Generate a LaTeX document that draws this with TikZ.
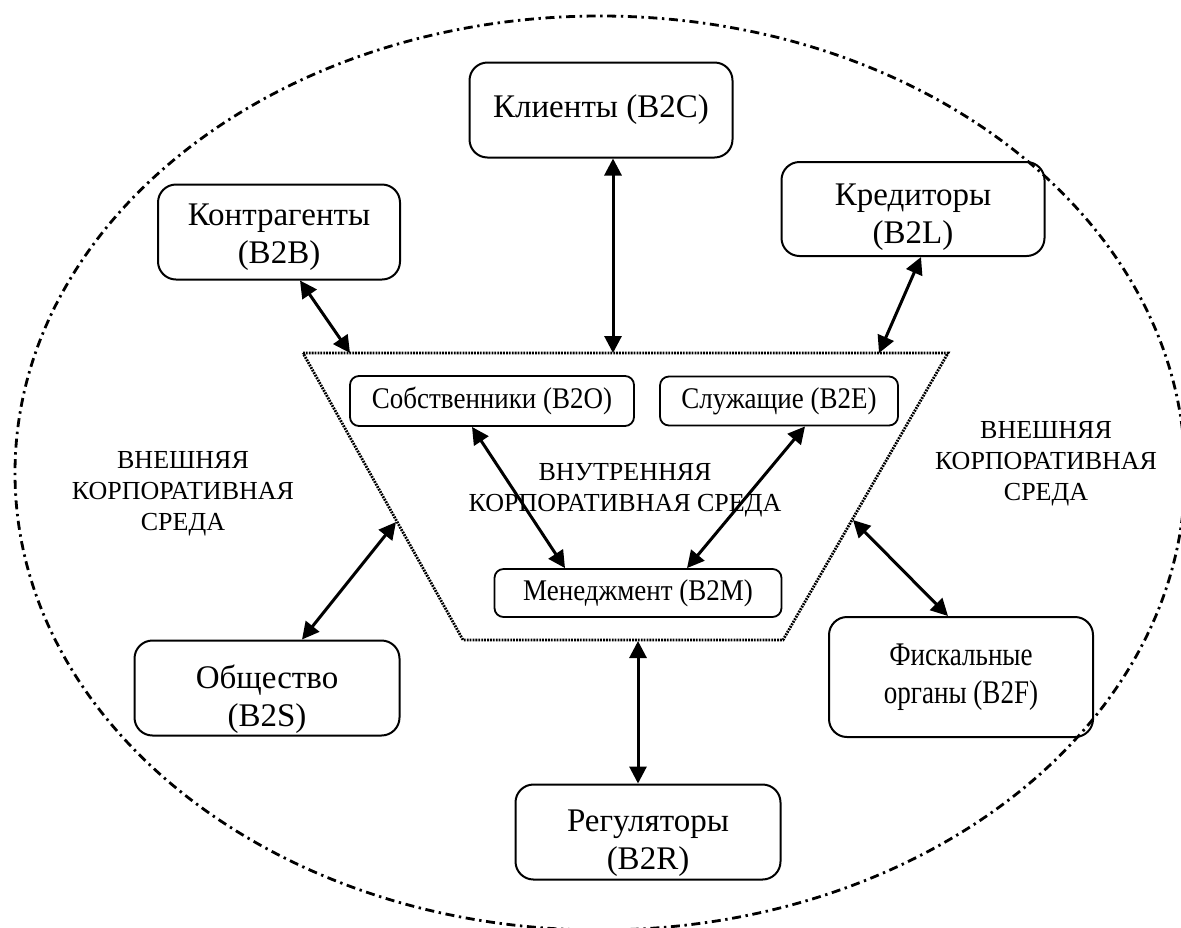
\documentclass[tikz,border=0pt]{standalone}
\usepackage{fontspec}
\setmainfont{Liberation Serif}
\newfontfamily\narrowserif{Liberation Serif}[FakeStretch=0.82]
\newfontfamily\slimserif{Liberation Serif}[FakeStretch=0.9]
\usetikzlibrary{arrows.meta,calc}

\newcommand\bxfont{\fontsize{16.5}{19}\selectfont}
\newcommand\smbxfont{\fontsize{15}{17}\selectfont}
\newcommand\zonefont{\fontsize{13}{15.5}\selectfont}
% two-line caption set a little below the middle of its box
\newcommand\lowtext[2]{\raisebox{-#1}[\height][\depth]{\begin{tabular}{@{}c@{}}#2\end{tabular}}}

\tikzset{
  bigbox/.style={draw, line width=1pt, rounded corners=9pt, align=center,
    inner sep=0pt, font=\bxfont},
  smallbox/.style={draw, line width=0.9pt, rounded corners=4.5pt, align=center,
    inner sep=0pt, font=\smbxfont\slimserif},
  link/.style={line width=1.5pt,
    {Triangle[length=8.5pt,width=8.5pt]}-{Triangle[length=8.5pt,width=8.5pt]}},
  zone/.style={align=center, font=\zonefont},
  border/.style={line width=1.4pt, dash pattern=on 4.5pt off 2.3pt on 1.2pt off 2.3pt},
  inner/.style={line width=1.4pt, dash pattern=on 0.9pt off 0.55pt},
}

\begin{document}
\begin{tikzpicture}[x=0.5pt, y=-0.5pt]
  \useasboundingbox (0,0) rectangle (1181,927);
  \clip (0,0) rectangle (1181,927);

  % outer corporate environment
  \draw[border] (600,473) ellipse [x radius=585, y radius=457];

  % inner corporate environment
  \coordinate (tl) at (303,353);
  \coordinate (tr) at (948,353);
  \coordinate (br) at (783,640);
  \coordinate (bl) at (463,640);
  \draw[inner] (tl) -- (tr) -- (br) -- (bl) -- cycle;

  % outer stakeholders
  \node[bigbox, minimum width=131.5pt, minimum height=47.5pt] (c) at (601,110) {Клиенты (B2C)};
  \node[bigbox, minimum width=121pt, minimum height=47.5pt] (b) at (279,232) {\lowtext{2.5pt}{Контрагенты\\(B2B)}};
  \node[bigbox, minimum width=131.5pt, minimum height=47pt] (l) at (913,209) {\lowtext{4pt}{Кредиторы\\(B2L)}};
  \node[bigbox, minimum width=132.5pt, minimum height=47.5pt] (s) at (267,688) {\lowtext{6pt}{Общество\\(B2S)}};
  \node[bigbox, minimum width=132pt, minimum height=60pt, font=\bxfont\narrowserif] (f) at (961,677) {Фискальные\\органы (B2F)};
  \node[bigbox, minimum width=132.5pt, minimum height=47.5pt] (r) at (648,832) {\lowtext{5.5pt}{Регуляторы\\(B2R)}};

  % inner stakeholders
  \node[smallbox, minimum width=142pt, minimum height=25pt] (o) at (492,401) {Собственники (B2O)};
  \node[smallbox, minimum width=119pt, minimum height=24.5pt] (e) at (779,401) {Служащие (B2E)};
  \node[smallbox, minimum width=143.5pt, minimum height=24pt] (m) at (638,593) {Менеджмент (B2M)};

  % zone labels
  \node[zone] (zi) at (625,490) {ВНУТРЕННЯЯ\\КОРПОРАТИВНАЯ СРЕДА};
  \node[zone] (zl) at (183,494) {ВНЕШНЯЯ\\КОРПОРАТИВНАЯ\\СРЕДА};
  \node[zone] (zr) at (1046,464) {ВНЕШНЯЯ\\КОРПОРАТИВНАЯ\\СРЕДА};

  % contact points on the inner environment border
  \coordinate (pb) at (350,353);
  \coordinate (pc) at (613,353);
  \coordinate (pl) at (879,353);
  \coordinate (ps) at (396,522);
  \coordinate (pf) at (853,520);
  \coordinate (pr) at (638,641);

  % contact points on the boxes
  \coordinate (qb) at ($(b.south)+(21,0)$);
  \coordinate (qc) at ($(c.south)+(12,0)$);
  \coordinate (ql) at ($(l.south)+(8,0)$);
  \coordinate (qs) at ($(s.north)+(35,0)$);
  \coordinate (qf) at ($(f.north)+(-13,0)$);
  \coordinate (qr) at ($(r.north)+(-10,0)$);
  \coordinate (qo) at ($(o.south)+(-20,0)$);
  \coordinate (qe) at ($(e.south)+(26,0)$);
  \coordinate (qm1) at ($(m.north)+(-73,0)$);
  \coordinate (qm2) at ($(m.north)+(49,0)$);

  % interactions
  \draw[link] (qb) -- (pb);
  \draw[link] (qc) -- (pc);
  \draw[link] (ql) -- (pl);
  \draw[link] (qs) -- (ps);
  \draw[link] (qf) -- (pf);
  \draw[link] (qr) -- (pr);
  \draw[link] (qo) -- (qm1);
  \draw[link] (qe) -- (qm2);
\end{tikzpicture}
\end{document}
